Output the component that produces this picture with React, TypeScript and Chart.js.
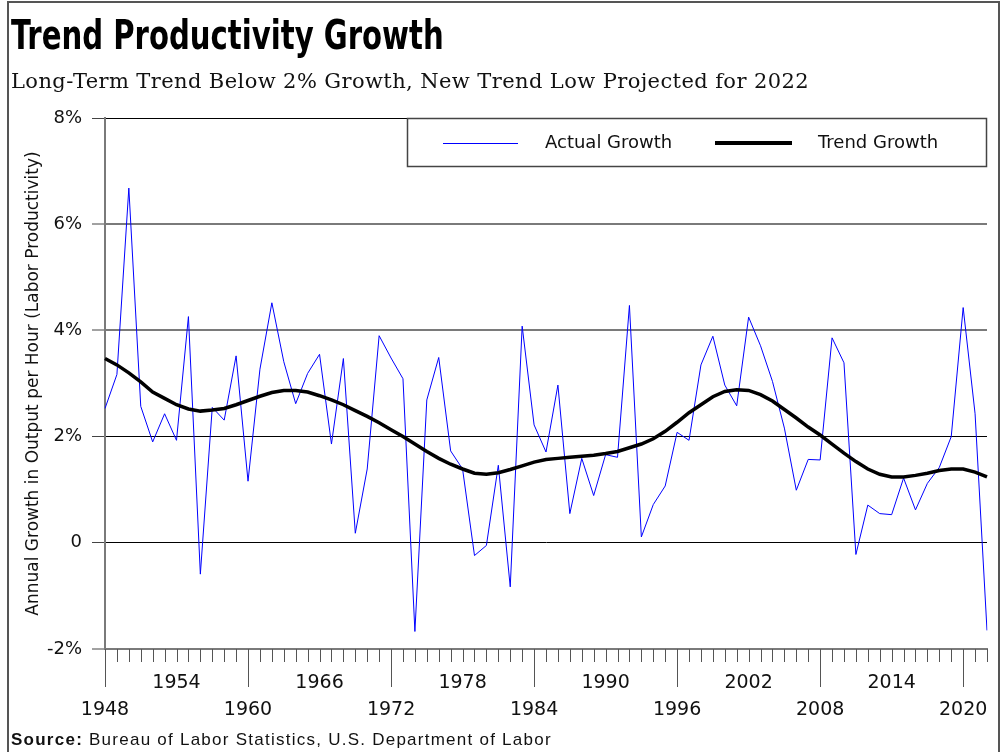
import React, { useEffect, useRef } from "react";
import { Chart, registerables } from "chart.js";

Chart.register(...registerables);

const years = [
  1948, 1949, 1950, 1951, 1952, 1953, 1954, 1955, 1956, 1957,
  1958, 1959, 1960, 1961, 1962, 1963, 1964, 1965, 1966, 1967,
  1968, 1969, 1970, 1971, 1972, 1973, 1974, 1975, 1976, 1977,
  1978, 1979, 1980, 1981, 1982, 1983, 1984, 1985, 1986, 1987,
  1988, 1989, 1990, 1991, 1992, 1993, 1994, 1995, 1996, 1997,
  1998, 1999, 2000, 2001, 2002, 2003, 2004, 2005, 2006, 2007,
  2008, 2009, 2010, 2011, 2012, 2013, 2014, 2015, 2016, 2017,
  2018, 2019, 2020, 2021, 2022,
];

const actualGrowth = [
  2.53, 3.17, 6.68, 2.57, 1.9, 2.43, 1.93, 4.26, -0.59, 2.55,
  2.31, 3.52, 1.16, 3.27, 4.52, 3.41, 2.62, 3.19, 3.55, 1.86,
  3.47, 0.18, 1.39, 3.9, 3.48, 3.09, -1.67, 2.69, 3.49, 1.73,
  1.39, -0.24, -0.05, 1.46, -0.83, 4.08, 2.22, 1.71, 2.97, 0.55,
  1.59, 0.89, 1.66, 1.61, 4.47, 0.11, 0.72, 1.07, 2.08, 1.93,
  3.35, 3.89, 2.97, 2.58, 4.25, 3.71, 3.04, 2.16, 0.99, 1.57,
  1.56, 3.86, 3.39, -0.22, 0.71, 0.55, 0.53, 1.22, 0.62, 1.12,
  1.42, 2.0, 4.43, 2.43, -1.65,
];

const trendGrowth = [
  3.47, 3.35, 3.2, 3.03, 2.84, 2.72, 2.6, 2.52, 2.48, 2.5,
  2.53, 2.6, 2.68, 2.76, 2.83, 2.87, 2.87, 2.84, 2.77, 2.69,
  2.6, 2.49, 2.38, 2.26, 2.13, 2.0, 1.86, 1.72, 1.59, 1.48,
  1.39, 1.31, 1.29, 1.32, 1.38, 1.45, 1.52, 1.57, 1.59, 1.61,
  1.63, 1.65, 1.68, 1.72, 1.79, 1.86, 1.96, 2.1, 2.27, 2.45,
  2.6, 2.75, 2.85, 2.88, 2.87, 2.79, 2.67, 2.51, 2.35, 2.18,
  2.03, 1.86, 1.69, 1.53, 1.39, 1.29, 1.24, 1.24, 1.27, 1.31,
  1.36, 1.39, 1.39, 1.33, 1.24,
];

const yTickValues = [-2, 0, 2, 4, 6, 8];

const seriesNames = ["Actual Growth", "Trend Growth"];

const SANS = "'DejaVu Sans', 'Liberation Sans', sans-serif";

const decorPlugin = {
  id: "decor",
  afterDraw(chart: any) {
    const { ctx, chartArea } = chart;
    const x = chart.scales.x;
    ctx.save();
    // x-axis tick marks (minor every year, major every 12 years)
    ctx.strokeStyle = "#555";
    ctx.lineWidth = 1;
    years.forEach((yr, i) => {
      const px = Math.round(x.getPixelForValue(i)) + 0.5;
      const major = (yr - 1948) % 12 === 0;
      ctx.beginPath();
      ctx.moveTo(px, chartArea.bottom);
      ctx.lineTo(px, chartArea.bottom + (major ? 38 : 13));
      ctx.stroke();
    });

    // legend box
    const lx = 407, ly = chartArea.top, lw = 580, lh = 48;
    ctx.fillStyle = "#fff";
    ctx.fillRect(lx, ly, lw, lh);
    ctx.strokeStyle = "#444";
    ctx.lineWidth = 1.5;
    ctx.strokeRect(lx + 0.5, ly + 0.5, lw - 1, lh);
    const cy = ly + 25;
    ctx.strokeStyle = "#0000ff";
    ctx.lineWidth = 1;
    ctx.beginPath();
    ctx.moveTo(443, cy + 0.5);
    ctx.lineTo(518, cy + 0.5);
    ctx.stroke();
    ctx.strokeStyle = "#000";
    ctx.lineWidth = 4;
    ctx.beginPath();
    ctx.moveTo(715, cy);
    ctx.lineTo(792, cy);
    ctx.stroke();
    ctx.fillStyle = "#111";
    ctx.font = "18px " + SANS;
    ctx.textBaseline = "middle";
    ctx.textAlign = "left";
    ctx.fillText(seriesNames[0], 545, cy);
    ctx.fillText(seriesNames[1], 818, cy);

    // outer frame
    ctx.strokeStyle = "#555";
    ctx.lineWidth = 2;
    ctx.strokeRect(8, 2, 991, 770);
    ctx.restore();
  },
};

export default function App() {
  const ref = useRef<HTMLCanvasElement>(null);

  useEffect(() => {
    if (!ref.current) return;
    const chart = new Chart(ref.current, {
      type: "line",
      data: {
        labels: years.map(String),
        datasets: [
          {
            label: seriesNames[1],
            data: trendGrowth,
            borderColor: "#000",
            borderWidth: 3.5,
            pointRadius: 0,
            tension: 0,
            fill: false,
            order: 0,
          },
          {
            label: seriesNames[0],
            data: actualGrowth,
            borderColor: "#0000ff",
            borderWidth: 1,
            pointRadius: 0,
            tension: 0,
            fill: false,
            order: 1,
          },
        ],
      },
      options: {
        responsive: false,
        animation: false,
        layout: { padding: { top: 118, right: 15, bottom: 0, left: 0 } },
        plugins: {
          legend: { display: false },
          tooltip: { enabled: false },
          title: { display: false },
        },
        scales: {
          x: {
            type: "category",
            offset: false,
            grid: { display: false, drawTicks: false },
            border: { display: true, color: "#7a7a7a", width: 2 },
            ticks: {
              autoSkip: false,
              maxRotation: 0,
              minRotation: 0,
              padding: 21,
              color: "#111",
              font: { family: SANS, size: 19, lineHeight: "27px" },
              callback: (_v: any, index: number) => {
                const yr = years[index];
                if ((yr - 1948) % 12 === 0) return ["", String(yr)];
                if ((yr - 1948) % 6 === 0) return [String(yr), ""];
                return null;
              },
            },
            afterFit: (scale: any) => {
              scale.height = 103;
              scale.paddingLeft = 0;
              scale.paddingRight = 0;
            },
          },
          y: {
            min: -2,
            max: 8,
            afterBuildTicks: (scale: any) => {
              scale.ticks = yTickValues.map((v) => ({ value: v }));
            },
            grid: {
              drawTicks: true,
              tickLength: 13,
              color: (c: any) =>
                c.tick && (c.tick.value === 6 || c.tick.value === 4 || c.tick.value === -2)
                  ? "#7a7a7a"
                  : "#000",
              lineWidth: (c: any) =>
                c.tick && (c.tick.value === 6 || c.tick.value === 4 || c.tick.value === -2) ? 2 : 1,
              tickColor: "#444",
              tickWidth: 1,
            },
            border: { display: true, color: "#7a7a7a", width: 2 },
            ticks: {
              padding: 10,
              color: "#111",
              font: { family: SANS, size: 18 },
              callback: (v: any) => (Number(v) === 0 ? "0" : v + "%"),
            },
            title: {
              display: true,
              text: "Annual Growth in Output per Hour (Labor Productivity)",
              color: "#111",
              font: { family: SANS, size: 17 },
              padding: { top: 23, bottom: 0 },
            },
            afterFit: (scale: any) => {
              scale.width = 105;
              scale.paddingTop = 0;
              scale.paddingBottom = 0;
            },
          },
        },
      },
      plugins: [decorPlugin],
    });
    return () => chart.destroy();
  }, []);

  return (
    <div
      style={{
        position: "fixed",
        left: 0,
        top: 0,
        width: 1002,
        height: 752,
        background: "#fff",
        overflow: "hidden",
      }}
    >
      <canvas
        ref={ref}
        width={1002}
        height={752}
        style={{ position: "absolute", left: 0, top: 0, width: 1002, height: 752 }}
      />
      <div
        style={{
          position: "absolute",
          left: 11,
          top: 15,
          fontFamily: "'Liberation Sans Narrow', 'DejaVu Sans Condensed', sans-serif",
          fontWeight: 700,
          fontSize: 41,
          lineHeight: "41px",
          color: "#000",
          whiteSpace: "nowrap",
          transform: "scaleX(0.79)",
          transformOrigin: "0 0",
        }}
      >
        Trend Productivity Growth
      </div>
      <div
        style={{
          position: "absolute",
          left: 11,
          top: 71,
          fontFamily: "'DejaVu Serif', 'Liberation Serif', serif",
          fontSize: 21,
          lineHeight: "20px",
          letterSpacing: "0.4px",
          color: "#111",
          whiteSpace: "nowrap",
        }}
      >
        Long-Term Trend Below 2% Growth, New Trend Low Projected for 2022
      </div>
      <div
        style={{
          position: "absolute",
          left: 11,
          top: 732,
          fontFamily: "'Liberation Sans', sans-serif",
          fontSize: 17,
          lineHeight: "16px",
          letterSpacing: "1.25px",
          color: "#111",
          whiteSpace: "nowrap",
        }}
      >
        <b>Source:</b> Bureau of Labor Statistics, U.S. Department of Labor
      </div>
    </div>
  );
}
